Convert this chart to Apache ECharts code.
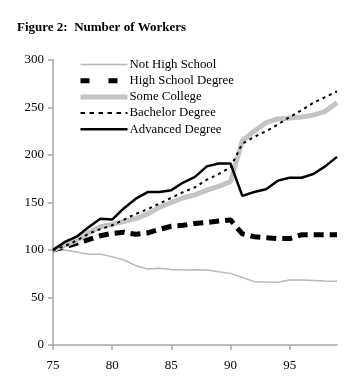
<!DOCTYPE html>
<html><head><meta charset="utf-8">
<script src="https://cdn.jsdelivr.net/npm/echarts@6/dist/echarts.min.js"></script>
<style>html,body{margin:0;padding:0;background:#fff}#c{width:360px;height:387px}</style>
</head><body><div id="c"></div>
<script>
var years = [75,76,77,78,79,80,81,82,83,84,85,86,87,88,89,90,91,92,93,94,95,96,97,98,99];
var notHighSchool = [100,100,98,95.5,95.5,93,89.5,83.5,80,80.7,79.5,79,79.3,79,77,75.4,71,66.7,66.3,66,68.4,68.4,68,67.4,67];
var highSchool = [100,103.5,107,111,115,117.5,118.6,116.5,118,121.8,125,126,128,129,130.5,131.6,117,114,113,112,112,116,116,116,116];
var someCollege = [100,105,110,118,124.5,127,130,133,138,145,150,155,158,163,167,172,215,225,234,238,239,240,242,246,255];
var bachelor = [100,104,110,117,122,126,132,138,143,149,155,161,166,174,180,187,212,219,225,232,240,247,255,261,267];
var advanced = [100,108.5,114,124,133,132,144,154,161,161,163,171,177,188,191,191,157,161,164,173,176,176,180,188,198];
var xTicks = [75,80,85,90,95];
var seriesNames = ['Not High School','High School Degree','Some College','Bachelor Degree','Advanced Degree'];

function pairs(arr){ return years.map(function(y,i){ return [y, arr[i]]; }); }
var FONT = '"Liberation Serif", "Times New Roman", serif';
var styles = [
  { color:'#b8b8b8', width:1.5, type:'solid' },
  { color:'#000', width:5, type:[10,6] },
  { color:'#c4c4c4', width:5, type:'solid' },
  { color:'#000', width:2, type:[3,4] },
  { color:'#000', width:2.5, type:'solid' }
];
var legendStyles = [
  { color:'#b8b8b8', width:1.5, type:'solid' },
  { color:'#000', width:5, type:[9,19] },
  { color:'#c4c4c4', width:5, type:'solid' },
  { color:'#000', width:2, type:[4.5,4.5] },
  { color:'#000', width:2.5, type:'solid' }
];
var chart = echarts.init(document.getElementById('c'), null, {renderer:'canvas'});
chart.setOption({
  animation:false,
  backgroundColor:'#fff',
  title:{ text:'Figure 2:  Number of Workers', left:17, top:21, padding:0,
    textStyle:{ fontFamily:FONT, fontSize:13, fontWeight:'bold', color:'#000' } },
  grid:{ left:53, right:23, top:60, bottom:42, containLabel:false },
  legend:{ orient:'vertical', left:78, top:58, padding:0, itemWidth:47, itemHeight:14, itemGap:3.2,
    itemStyle:{ opacity:0 },
    textStyle:{ fontFamily:FONT, fontSize:12.8, color:'#000', padding:[0,0,0,-3] },
    data:seriesNames.map(function(n,i){ return { name:n, lineStyle:legendStyles[i] }; }) },
  xAxis:{ type:'value', min:75, max:99, interval:5,
    axisLine:{ lineStyle:{ color:'#a6a6a6', width:1.5 } },
    axisTick:{ show:true, length:5, customValues:xTicks, lineStyle:{ color:'#a6a6a6', width:1.5 } },
    axisLabel:{ customValues:xTicks, fontFamily:FONT, fontSize:13, color:'#000', margin:14 },
    splitLine:{ show:false } },
  yAxis:{ type:'value', min:0, max:300, interval:50,
    axisLine:{ show:true, lineStyle:{ color:'#a6a6a6', width:1.5 } },
    axisTick:{ show:true, length:5, lineStyle:{ color:'#a6a6a6', width:1.5 } },
    axisLabel:{ fontFamily:FONT, fontSize:13, color:'#000', margin:9 },
    splitLine:{ show:false } },
  series:[
    { name:seriesNames[0], type:'line', data:pairs(notHighSchool), symbol:'none',
      lineStyle:styles[0], itemStyle:{ color:styles[0].color } },
    { name:seriesNames[1], type:'line', data:pairs(highSchool), symbol:'none',
      lineStyle:styles[1], itemStyle:{ color:styles[1].color } },
    { name:seriesNames[2], type:'line', data:pairs(someCollege), symbol:'none',
      lineStyle:styles[2], itemStyle:{ color:styles[2].color } },
    { name:seriesNames[3], type:'line', data:pairs(bachelor), symbol:'none',
      lineStyle:styles[3], itemStyle:{ color:styles[3].color } },
    { name:seriesNames[4], type:'line', data:pairs(advanced), symbol:'none',
      lineStyle:styles[4], itemStyle:{ color:styles[4].color } }
  ]
});
</script></body></html>
